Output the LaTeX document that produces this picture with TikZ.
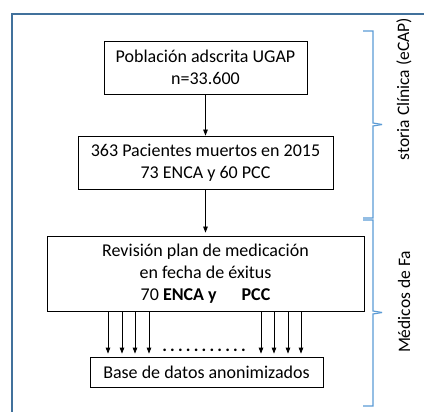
\documentclass[tikz,border=0pt]{standalone}
\usepackage{fontspec}
\setmainfont{Carlito}
\usetikzlibrary{arrows.meta}
\definecolor{framec}{HTML}{41719C}
\definecolor{bracec}{HTML}{5B9BD5}
\tikzset{
  box/.style={draw=black, line width=0.8pt, align=center, inner sep=0pt, font=\fontsize{18}{22}\selectfont},
  conn/.style={-{Triangle[width=4.5pt,length=6pt]}, line width=0.8pt},
  bracel/.style={draw=bracec, line width=1.2pt},
  sidelabel/.style={rotate=90, font=\fontsize{17.5}{20}\selectfont, inner sep=0pt}
}
\newcommand{\dotgap}{\hspace{3.2pt}}
\begin{document}
\begin{tikzpicture}[x=1pt,y=-1pt]
\useasboundingbox (0,0) rectangle (424,412);
% outer frame (only top and left visible)
\draw[framec, line width=1.8pt] (12,414) -- (12,14) -- (426,14);
% boxes
\node[box, minimum width=203pt, minimum height=53pt] (b1) at (205.5,67.5) {Población adscrita UGAP\\n=33.600};
\node[box, minimum width=255pt, minimum height=53pt] (b2) at (205.5,162.5) {363 Pacientes muertos en 2015\\73 ENCA y 60 PCC};
\node[box, minimum width=317pt, minimum height=75pt] (b3) at (205.5,273.5) {Revisión plan de medicación\\en fecha de éxitus\\70 \textbf{ENCA y}\hspace{25pt}\textbf{PCC}};
\node[box, minimum width=233pt, minimum height=30pt] (b4) at (206.5,372) {Base de datos anonimizados};
% connectors
\draw[conn] (b1.south) -- (b2.north);
\draw[conn, shorten >=3pt] (b2.south) -- (b3.north);
\foreach \xx in {108,122,135,149,261,274,288,301}{
  \draw[conn, shorten >=3pt] (b3.south -| \xx,0) -- (b4.north -| \xx,0);
}
\node[font=\fontsize{17.5}{20}\selectfont\bfseries, inner sep=0pt, anchor=base] (dots) at (204,352) {.\dotgap.\dotgap.\dotgap.\dotgap.\dotgap.\dotgap.\dotgap.\dotgap.\dotgap.\dotgap.};
% braces
\draw[bracel] (363,31) -- (373,31) -- (373,123) -- (382,124.5) ;
\draw[bracel] (382,124.5) -- (373,126) -- (373,218) -- (363,218);
\draw[bracel] (363,220) -- (373,220) -- (373,311) -- (382,312.5);
\draw[bracel] (382,312.5) -- (373,314) -- (373,406) -- (363,406);
% side labels
\node[sidelabel] (l1) at (404,89) {storia Clínica (eCAP)};
\node[sidelabel] (l2) at (404,302) {Médicos de Fa};
\end{tikzpicture}
\end{document}
